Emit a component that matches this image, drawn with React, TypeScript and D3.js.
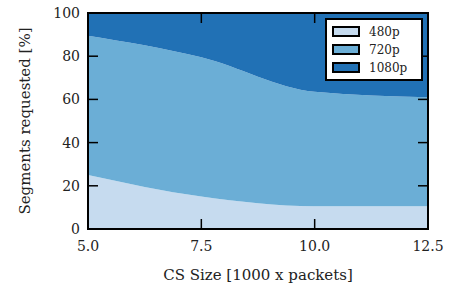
import { useRef, useEffect } from 'react'
import * as d3 from 'd3'

const csSizes = [5.0, 7.5, 10.0, 12.5]
const share480 = [25, 15, 10.5, 10.5]
const share720 = [64.5, 64.5, 53, 50.5]
const share1080 = [10.5, 20.5, 36.5, 39]
const seriesNames = ['480p', '720p', '1080p']
const seriesColors = ['#c6dbef', '#6baed6', '#2171b5']
const xTicks = [5.0, 7.5, 10.0, 12.5]
const yTicks = [0, 20, 40, 60, 80, 100]

const App = () => {
  const svgRef = useRef<SVGSVGElement>(null)

  useEffect(() => {
    if (!svgRef.current) return
    const svg = d3.select(svgRef.current)
    svg.selectAll('*').remove()

    const width = 458
    const height = 290
    const margin = { top: 13, right: 30, bottom: 61, left: 88 }
    const w = width - margin.left - margin.right
    const h = height - margin.top - margin.bottom
    const font = '"DejaVu Serif", serif'

    const g = svg.append('g').attr('transform', `translate(${margin.left},${margin.top})`)

    const x = d3.scaleLinear().domain([5, 12.5]).range([0, w])
    const y = d3.scaleLinear().domain([0, 100]).range([h, 0])

    const rows = csSizes.map((s, i) => ({
      size: s,
      '480p': share480[i],
      '720p': share720[i],
      '1080p': share1080[i],
    }))
    const stacked = d3.stack<any>().keys(seriesNames)(rows)

    const area = d3.area<any>()
      .x(d => x(d.data.size))
      .y0(d => y(d[0]))
      .y1(d => y(d[1]))
      .curve(d3.curveMonotoneX)

    g.selectAll('.layer')
      .data(stacked)
      .join('path')
      .attr('d', d => area(d as any) || '')
      .attr('fill', (_, i) => seriesColors[i])

    const tickLen = 10
    // ticks on all four sides, pointing inward
    xTicks.forEach(t => {
      g.append('line').attr('x1', x(t)).attr('x2', x(t)).attr('y1', h).attr('y2', h - tickLen)
        .attr('stroke', '#000').attr('stroke-width', 1.5)
      g.append('line').attr('x1', x(t)).attr('x2', x(t)).attr('y1', 0).attr('y2', tickLen)
        .attr('stroke', '#000').attr('stroke-width', 1.5)
      g.append('text').attr('x', x(t)).attr('y', h + 22)
        .attr('text-anchor', 'middle').attr('font-family', font).attr('font-size', 14)
        .attr('fill', '#222').text(t.toFixed(1))
    })
    yTicks.forEach(t => {
      g.append('line').attr('x1', 0).attr('x2', tickLen).attr('y1', y(t)).attr('y2', y(t))
        .attr('stroke', '#000').attr('stroke-width', 1.5)
      g.append('line').attr('x1', w).attr('x2', w - tickLen).attr('y1', y(t)).attr('y2', y(t))
        .attr('stroke', '#000').attr('stroke-width', 1.5)
      g.append('text').attr('x', -8).attr('y', y(t)).attr('dy', '0.35em')
        .attr('text-anchor', 'end').attr('font-family', font).attr('font-size', 14)
        .attr('fill', '#222').text(t)
    })

    g.append('rect').attr('x', 0).attr('y', 0).attr('width', w).attr('height', h)
      .attr('fill', 'none').attr('stroke', '#000').attr('stroke-width', 2)

    svg.append('text')
      .attr('x', margin.left + w / 2).attr('y', height - 10)
      .attr('text-anchor', 'middle').attr('font-family', font).attr('font-size', 15)
      .attr('fill', '#222').text('CS Size [1000 x packets]')

    svg.append('text')
      .attr('transform', `translate(30,${margin.top + h / 2}) rotate(-90)`)
      .attr('text-anchor', 'middle').attr('font-family', font).attr('font-size', 15)
      .attr('fill', '#222').text('Segments requested [%]')

    // legend
    const lg = svg.append('g').attr('transform', 'translate(326,19)')
    lg.append('rect').attr('width', 96).attr('height', 61)
      .attr('fill', '#fff').attr('stroke', '#000').attr('stroke-width', 2)
    seriesNames.forEach((name, i) => {
      const ly = 8 + i * 18
      lg.append('rect').attr('x', 7).attr('y', ly).attr('width', 26).attr('height', 9)
        .attr('fill', seriesColors[i]).attr('stroke', '#000').attr('stroke-width', 2)
      lg.append('text').attr('x', 43).attr('y', ly + 5).attr('dy', '0.35em')
        .attr('font-family', font).attr('font-size', 12).attr('fill', '#222').text(name)
    })
  }, [])

  return (
    <div>
      <svg ref={svgRef} width={458} height={290} style={{ position: 'absolute', left: 0, top: 0 }} />
    </div>
  )
}

export default App
